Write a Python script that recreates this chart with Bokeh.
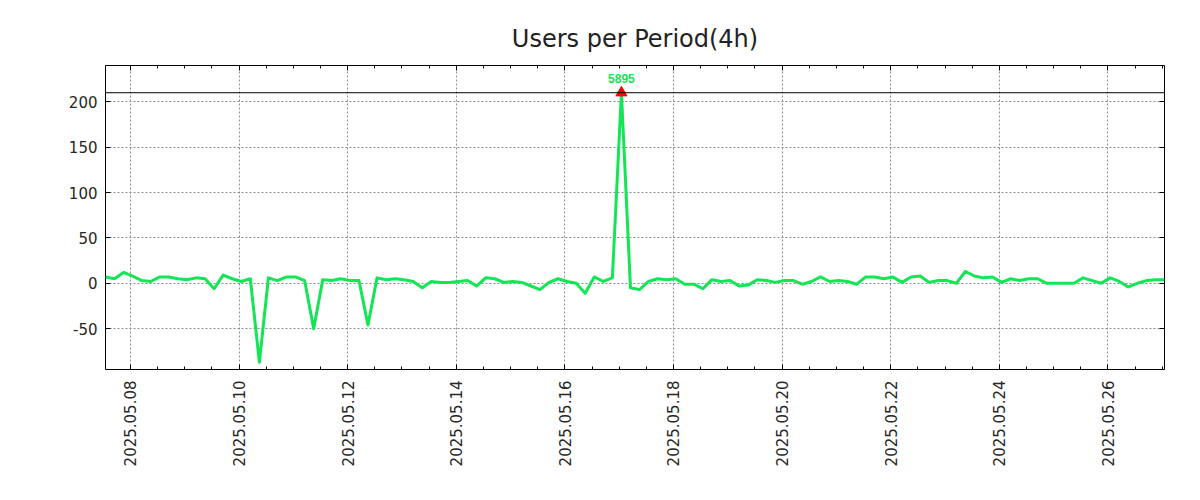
import numpy as np
import pandas as pd
from bokeh.plotting import figure
from bokeh.models import (Range1d, FixedTicker, DatetimeTickFormatter, DatetimeAxis,
                          LinearAxis, Span, Label)
from bokeh.embed import file_html
from bokeh.resources import INLINE

# ---------------- data ----------------
title_text = "Users per Period(4h)"
start_time = "2025-05-07 13:00"
period = "4h"
users = [7, 5, 12, 8, 3, 2, 7, 7, 5, 4,
         6, 5, -6, 9, 5, 2, 5, -87, 6, 3,
         7, 7, 3, -50, 4, 3, 5, 3, 3, -46,
         6, 4, 5, 4, 2, -5, 2, 1, 1, 2,
         3, -3, 6, 5, 1, 2, 1, -3, -7, 1,
         5, 2, 0, -11, 7, 2, 6, 5895, -5, -7,
         2, 5, 4, 5, -1, -1, -6, 4, 2, 3,
         -3, -2, 4, 3, 1, 3, 3, -1, 2, 7,
         2, 3, 2, -1, 7, 7, 5, 7, 1, 7,
         8, 1, 3, 3, 0, 13, 8, 6, 7, 1,
         5, 3, 5, 5, 0, 0, 0, 0, 6, 3,
         0, 6, 2, -4, 0, 3, 4, 4]
cap = 210                      # display cap of the y axis
y_ticks = [-50, 0, 50, 100, 150, 200]
y_range = (-95, 240)
x_tick_labels = ["2025.05.08", "2025.05.10", "2025.05.12", "2025.05.14", "2025.05.16",
                 "2025.05.18", "2025.05.20", "2025.05.22", "2025.05.24", "2025.05.26"]

# ---------------- derived ----------------
times = pd.date_range(start_time, periods=len(users), freq=period)
vals = np.array(users, dtype=float)
shown = np.minimum(vals, cap)
peak_i = int(np.argmax(vals))

def to_ms(idx):
    return [float(v) for v in (pd.DatetimeIndex(idx).asi8 // 10**6)]

major_ms = to_ms(pd.to_datetime(x_tick_labels, format="%Y.%m.%d"))
minor_ms = to_ms(pd.date_range(times[0].floor("D"), times[-1].ceil("D"), freq="12h"))

FONT = "DejaVu Sans"
LINE_GREEN = "#12e655"
TXT = "#262626"

p = figure(width=1192, height=492, output_backend="svg", toolbar_location=None,
           x_axis_type="datetime",
           x_range=Range1d(times[0], times[-1]), y_range=Range1d(*y_range),
           min_border_left=105, min_border_right=28, min_border_top=65, min_border_bottom=123,
           background_fill_color="white", border_fill_color="white")

p.title.text = title_text
p.title.align = "center"
p.title.text_font = FONT
p.title.text_font_size = "24px"
p.title.text_font_style = "normal"
p.title.text_color = "#222222"
p.title.standoff = 26

p.outline_line_color = "black"
p.outline_line_width = 1
p.outline_line_alpha = 1

xticker = FixedTicker(ticks=major_ms, minor_ticks=minor_ms)
yticker = FixedTicker(ticks=y_ticks, minor_ticks=[])
fmt = DatetimeTickFormatter(milliseconds="%Y.%m.%d", seconds="%Y.%m.%d", minsec="%Y.%m.%d",
                            minutes="%Y.%m.%d", hourmin="%Y.%m.%d", hours="%Y.%m.%d",
                            days="%Y.%m.%d", months="%Y.%m.%d", years="%Y.%m.%d")

xa = p.xaxis[0]
xa.ticker = xticker
xa.formatter = fmt
xa.major_label_orientation = np.pi / 2
xa.major_label_standoff = 11
ya = p.yaxis[0]
ya.ticker = yticker
ya.major_label_standoff = 8
ya.major_label_overrides = {t: str(t) for t in y_ticks}

for ax in (xa, ya):
    ax.axis_line_color = None
    ax.major_tick_in = 5
    ax.major_tick_out = 0
    ax.minor_tick_in = 3
    ax.minor_tick_out = 0
    ax.major_tick_line_color = "black"
    ax.minor_tick_line_color = "black"
    ax.major_label_text_font = FONT
    ax.major_label_text_font_size = "15px"
    ax.major_label_text_color = TXT
ya.minor_tick_line_color = None

top = DatetimeAxis(ticker=xticker, formatter=fmt)
right = LinearAxis(ticker=yticker)
for ax in (top, right):
    ax.axis_line_color = None
    ax.major_tick_in = 5
    ax.major_tick_out = 0
    ax.minor_tick_in = 3
    ax.minor_tick_out = 0
    ax.major_tick_line_color = "black"
    ax.minor_tick_line_color = "black"
    ax.major_label_text_font_size = "0px"
    ax.major_label_text_alpha = 0
    ax.major_label_standoff = 0
right.minor_tick_line_color = None
p.add_layout(top, "above")
p.add_layout(right, "right")

for g in (p.xgrid[0], p.ygrid[0]):
    g.grid_line_color = "#8c8c8c"
    g.grid_line_dash = "2 2"
    g.grid_line_width = 1
p.xgrid[0].ticker = xticker
p.ygrid[0].ticker = yticker

p.add_layout(Span(location=cap, dimension="width", line_color="black", line_width=1))

p.line(times, shown, line_color=LINE_GREEN, line_width=3, line_join="round")
p.scatter([times[peak_i]], [cap], marker="triangle", size=11,
          fill_color="#ff0000", line_color="#ff0000")
p.add_layout(Label(x=times[peak_i], y=cap, text=str(int(vals[peak_i])),
                   text_align="center", text_baseline="alphabetic", y_offset=14,
                   text_font="Liberation Sans", text_font_style="bold",
                   text_font_size="12px", text_color=LINE_GREEN))

open("out.html", "w").write(file_html(p, INLINE))
